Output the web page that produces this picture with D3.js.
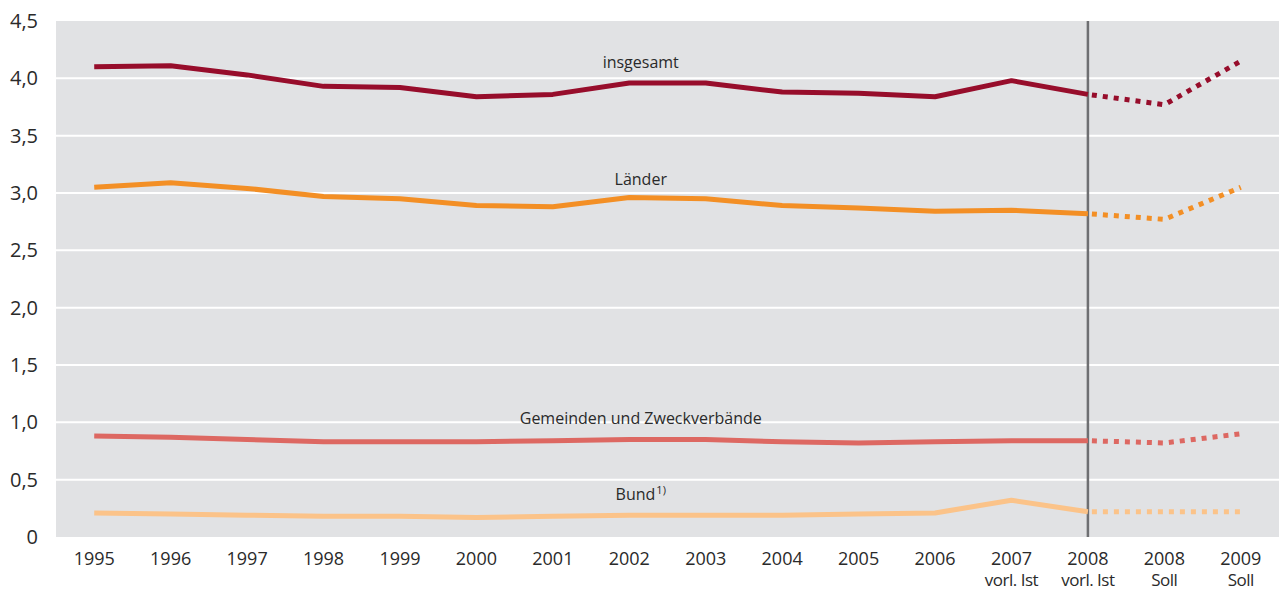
<!DOCTYPE html>
<html>
<head>
<meta charset="utf-8">
<script src="https://cdn.jsdelivr.net/npm/d3@7"></script>
<style>
  body { margin: 0; background: #fff; }
  text { font-family: "Open Sans", "DejaVu Sans", sans-serif; fill: #2a2a2a; }
</style>
</head>
<body>
<svg width="1284" height="592"></svg>
<script>
// categories (line 1 / line 2 of the tick label)
const years = ['1995','1996','1997','1998','1999','2000','2001','2002','2003','2004','2005','2006','2007','2008','2008','2009'];
const subLabels = ['','','','','','','','','','','','','vorl. Ist','vorl. Ist','Soll','Soll'];
const keys = years.map((y, i) => i);

const insgesamt = [4.10, 4.11, 4.03, 3.93, 3.92, 3.84, 3.86, 3.96, 3.96, 3.88, 3.87, 3.84, 3.98, 3.86, 3.77, 4.15];
const laender   = [3.05, 3.09, 3.04, 2.97, 2.95, 2.89, 2.88, 2.96, 2.95, 2.89, 2.87, 2.84, 2.85, 2.82, 2.77, 3.05];
const gemeinden = [0.88, 0.87, 0.85, 0.83, 0.83, 0.83, 0.84, 0.85, 0.85, 0.83, 0.82, 0.83, 0.84, 0.84, 0.82, 0.90];
const bund      = [0.21, 0.20, 0.19, 0.18, 0.18, 0.17, 0.18, 0.19, 0.19, 0.19, 0.20, 0.21, 0.32, 0.22, 0.22, 0.22];

const yTicks = [0, 0.5, 1, 1.5, 2, 2.5, 3, 3.5, 4, 4.5];
const splitIndex = 13; // 2008 vorl. Ist: solid up to here, dotted after

const series = [
  { name: 'insgesamt', values: insgesamt, color: '#970d2b', dy: -15 },
  { name: 'Länder', values: laender, color: '#f38f25', dy: -13 },
  { name: 'Gemeinden und Zweckverbände', values: gemeinden, color: '#dd6862', dy: -16 },
  { name: 'Bund', values: bund, color: '#fbc389', dy: -15, sup: '1)' }
];

const plotL = 56, plotR = 1279, plotT = 21, plotB = 537;
const fontStack = '"Open Sans", "DejaVu Sans", sans-serif';

const svg = d3.select('svg');

const x = d3.scaleBand()
  .domain(keys)
  .range([plotL, plotR]);
const cx = i => x(i) + x.bandwidth() / 2;

const y = d3.scaleLinear()
  .domain([0, 4.5])
  .range([plotB, plotT]);

// background
svg.append('rect')
  .attr('x', plotL).attr('y', plotT)
  .attr('width', plotR - plotL).attr('height', plotB - plotT)
  .attr('fill', '#e1e2e4');

// grid lines
svg.append('g')
  .selectAll('line')
  .data(yTicks.filter(d => d > 0 && d < 4.5))
  .enter()
  .append('line')
  .attr('x1', plotL).attr('x2', plotR)
  .attr('y1', d => y(d)).attr('y2', d => y(d))
  .attr('stroke', '#fff').attr('stroke-width', 2);

// y axis labels
const yAxis = svg.append('g')
  .attr('transform', `translate(${plotL}, 0)`)
  .call(d3.axisLeft(y).tickValues(yTicks).tickSize(0).tickPadding(18)
    .tickFormat(d => d === 0 ? '0' : d3.format('.1f')(d).replace('.', ',')));
yAxis.select('.domain').remove();
yAxis.selectAll('text').attr('font-size', 20).attr('fill', '#2a2a2a')
  .style('font-family', fontStack);

// x axis labels
const xAxis = svg.append('g')
  .attr('transform', `translate(0, ${plotB})`)
  .call(d3.axisBottom(x).tickSize(0).tickPadding(15).tickFormat(i => years[i]));
xAxis.select('.domain').remove();
xAxis.selectAll('text').attr('font-size', 18).attr('fill', '#2a2a2a')
  .style('font-family', fontStack);
xAxis.selectAll('.tick').append('text')
  .attr('y', 49)
  .attr('font-size', 17)
  .attr('letter-spacing', -0.5)
  .attr('fill', '#2a2a2a')
  .style('font-family', fontStack)
  .text(i => subLabels[i]);

// vertical separator
svg.append('line')
  .attr('x1', cx(splitIndex)).attr('x2', cx(splitIndex))
  .attr('y1', plotT).attr('y2', plotB)
  .attr('stroke', '#6e6f72').attr('stroke-width', 2.5);

const line = d3.line()
  .x(d => cx(d.i))
  .y(d => y(d.v));

series.forEach(s => {
  const pts = s.values.map((v, i) => ({ i: i, v: v }));
  svg.append('path')
    .datum(pts.slice(0, splitIndex + 1))
    .attr('d', line)
    .attr('fill', 'none')
    .attr('stroke', s.color)
    .attr('stroke-width', 5)
    .attr('stroke-linejoin', 'round');
  svg.append('path')
    .datum(pts.slice(splitIndex))
    .attr('d', line)
    .attr('fill', 'none')
    .attr('stroke', s.color)
    .attr('stroke-width', 5)
    .attr('stroke-dasharray', '5,6')
    .attr('stroke-dashoffset', -4);

  // series label, centred a little right of 2002
  const lx = x(7) + x.bandwidth() * 0.65;
  const t = svg.append('text')
    .attr('x', lx)
    .attr('y', y(s.values[7]) + s.dy)
    .attr('text-anchor', 'middle')
    .attr('font-size', 16)
    .text(s.name);
  if (s.sup) {
    t.append('tspan')
      .attr('font-size', 11)
      .attr('dy', -6)
      .attr('dx', 1)
      .text(s.sup);
  }
});
</script>
</body>
</html>
